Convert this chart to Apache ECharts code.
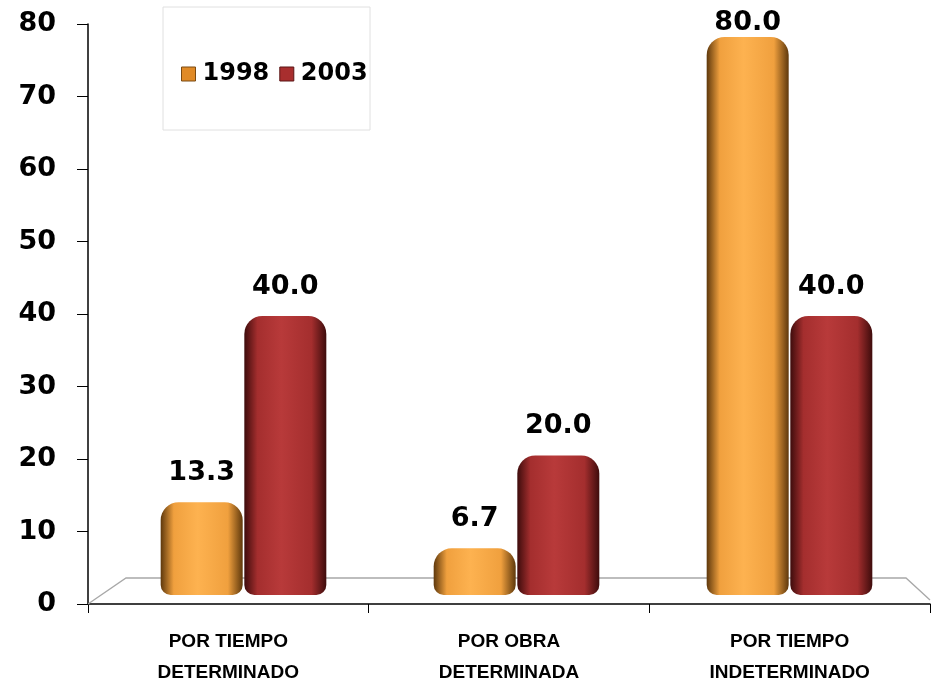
<!DOCTYPE html>
<html><head><meta charset="utf-8">
<script src="https://cdn.jsdelivr.net/npm/echarts@6/dist/echarts.min.js"></script>
<style>html,body{margin:0;padding:0;background:#fff}#c{width:933px;height:686px}</style>
</head><body><div id="c"></div>
<script>
const categories = ['POR TIEMPO\nDETERMINADO', 'POR OBRA\nDETERMINADA', 'POR TIEMPO\nINDETERMINADO'];
const values1998 = [13.3, 6.7, 80.0];
const values2003 = [40.0, 20.0, 40.0];
const yTicks = [0, 10, 20, 30, 40, 50, 60, 70, 80];

function cyl(dark, mid, light) {
  return {
    type: 'linear', x: 0, y: 0, x2: 1, y2: 0,
    colorStops: [
      {offset: 0, color: dark},
      {offset: 0.16, color: mid},
      {offset: 0.45, color: light},
      {offset: 0.82, color: mid},
      {offset: 1, color: dark}
    ]
  };
}
const orange = cyl('#5e380c', '#f0a03e', '#fdb250');
const red = cyl('#3e0c0c', '#a42e2e', '#b83a3a');

// labels of bars reaching the top of the scale sit closer to the bar so they stay in view
const withLabels = vals => vals.map(v => (v >= 75 ? {value: v, label: {distance: 1}} : v));

const chart = echarts.init(document.getElementById('c'));
const labelStyle = {show: true, position: 'top', distance: 16, fontFamily: 'DejaVu Sans', fontWeight: 'bold', fontSize: 27, color: '#000',
  formatter: p => Number(p.value).toFixed(1)};
chart.setOption({
  animation: false,
  backgroundColor: '#fff',
  grid: [
    {left: 88, right: 3, top: 24, bottom: 82, outerBoundsMode: 'none', containLabel: false},
    {left: 107, right: 7, top: 37, bottom: 91, outerBoundsMode: 'none', containLabel: false}
  ],
  legend: {
    left: 176, top: 57, itemWidth: 14, itemHeight: 14, itemGap: 10,
    textStyle: {fontFamily: 'DejaVu Sans', fontWeight: 'bold', fontSize: 24, color: '#000', padding: [0, 0, 0, 2]},
    data: [{name: '1998', icon: 'rect', itemStyle: {color: '#e08a26', borderColor: '#7a4a12', borderWidth: 1}},
           {name: '2003', icon: 'rect', itemStyle: {color: '#a82e2e', borderColor: '#5a1515', borderWidth: 1}}]
  },
  xAxis: [
    {type: 'category', gridIndex: 0, data: categories,
     axisLine: {lineStyle: {color: '#000', width: 1.5}},
     axisTick: {show: true, length: 9, lineStyle: {color: '#000'}},
     axisLabel: {margin: 22, fontFamily: 'Liberation Sans', fontWeight: 'bold', fontSize: 19, color: '#000', lineHeight: 31}},
    {type: 'category', gridIndex: 1, data: categories, show: false}
  ],
  yAxis: [
    {type: 'value', gridIndex: 0, min: 0, max: 80, interval: 10,
     axisLine: {show: true, lineStyle: {color: '#000', width: 1.5}},
     axisTick: {show: true, length: 11, lineStyle: {color: '#000'}},
     splitLine: {show: false},
     axisLabel: {margin: 32, fontFamily: 'DejaVu Sans', fontWeight: 'bold', fontSize: 27, color: '#000',
       formatter: v => yTicks.includes(v) ? String(v) : ''}},
    {type: 'value', gridIndex: 1, min: 0, max: 80, show: false, splitLine: {show: false}}
  ],
  series: [
    {name: '1998', type: 'bar', xAxisIndex: 1, yAxisIndex: 1, data: withLabels(values1998), barWidth: 82, barGap: '2%',
     itemStyle: {color: orange, borderRadius: [18, 18, 10, 10]}, label: labelStyle, z: 3},
    {name: '2003', type: 'bar', xAxisIndex: 1, yAxisIndex: 1, data: withLabels(values2003), barWidth: 82,
     itemStyle: {color: red, borderRadius: [18, 18, 10, 10]}, label: labelStyle, z: 3}
  ]
});

// decorative 3D floor derived from the axis grid
const rect = chart.getModel().getComponent('grid', 0).coordinateSystem.getRect();
const x0 = rect.x, y0 = rect.y + rect.height, x1 = rect.x + rect.width;
chart.setOption({
  graphic: [
    {type: 'polyline', z: 1, shape: {points: [[x0, y0], [x0 + 38, y0 - 26], [x1 - 24, y0 - 26], [x1, y0 - 4]]},
     style: {stroke: '#a8a8a8', lineWidth: 1.3, fill: null}},
    {type: 'rect', z: 0, shape: {x: 163, y: 7, width: 207, height: 123},
     style: {stroke: '#e0e0e0', lineWidth: 1, fill: '#fff'}}
  ]
});
</script></body></html>
